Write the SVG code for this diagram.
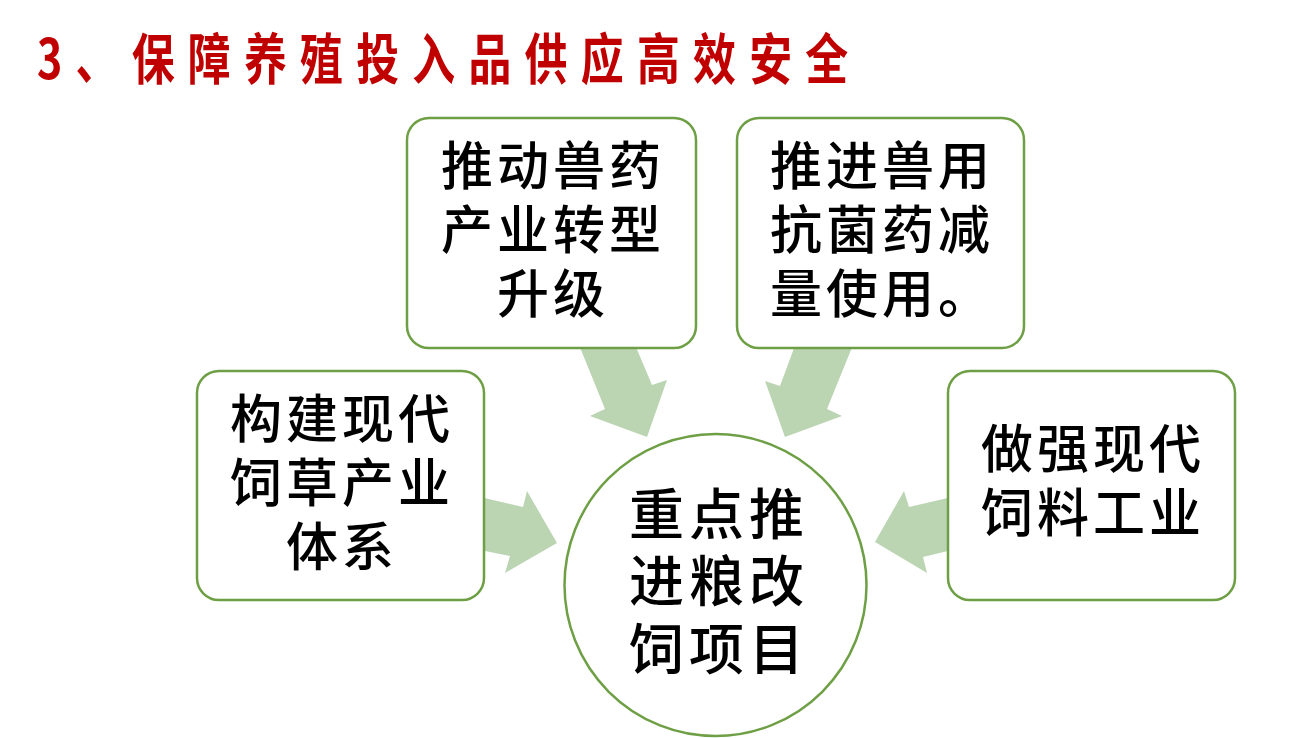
<svg xmlns="http://www.w3.org/2000/svg" width="1298" height="738" viewBox="0 0 1298 738">
<style>
.box{fill:#FFFFFF;stroke:#6E9F45;stroke-width:2.5}
.arr{fill:#BBD5B3;stroke:none}
.t{font-family:"Noto Sans CJK SC","Noto Sans CJK JP",sans-serif;font-size:52px;fill:#000000;text-anchor:middle;font-weight:500;letter-spacing:4px}
.c{font-size:55px;letter-spacing:5px}
.title{font-family:"Noto Sans CJK SC","Noto Sans CJK JP",sans-serif;font-size:55px;fill:#C00000;font-weight:bold}
</style>
<rect width="1298" height="738" fill="#FFFFFF"/>
<text class="title" transform="translate(37,0) scale(0.78,1)" x="0" y="79" textLength="1040" lengthAdjust="spacing">3、保障养殖投入品供应高效安全</text>
<g id="connectors">
<polygon class="arr" points="577,340 633,340 652,385 667,380 647,437 590,416 605,409"/>
<polygon class="arr" points="797,340 855,340 827,409 842,416 785,437 765,381 780,386"/>
<polygon class="arr" points="480,497 523,507 527,491 557,543 505,573 510,556 480,550"/>
<polygon class="arr" points="952,497 909,507 904,491 875,542 927,573 923,557 952,550"/>
</g>
<g id="node-top-left">
<rect class="box" x="407" y="118" width="289" height="230" rx="22"/>
<text class="t" x="553" y="185">推动兽药<tspan x="553" dy="64">产业转型</tspan><tspan x="553" dy="64">升级</tspan></text>
</g>
<g id="node-top-right">
<rect class="box" x="737" y="118" width="287" height="230" rx="22"/>
<text class="t" x="882" y="185">推进兽用<tspan x="882" dy="64">抗菌药减</tspan><tspan x="882" dy="64">量使用。</tspan></text>
</g>
<g id="node-left">
<rect class="box" x="197" y="371" width="287" height="229" rx="22"/>
<text class="t" x="342" y="438">构建现代<tspan x="342" dy="64">饲草产业</tspan><tspan x="342" dy="64">体系</tspan></text>
</g>
<g id="node-right">
<rect class="box" x="948" y="371" width="287" height="229" rx="22"/>
<text class="t" x="1093" y="468">做强现代<tspan x="1093" dy="64">饲料工业</tspan></text>
</g>
<g id="node-center">
<circle class="box" cx="715.5" cy="585" r="151"/>
<text class="t c" x="719" y="534">重点推<tspan x="719" dy="67">进粮改</tspan><tspan x="719" dy="68">饲项目</tspan></text>
</g>
</svg>
